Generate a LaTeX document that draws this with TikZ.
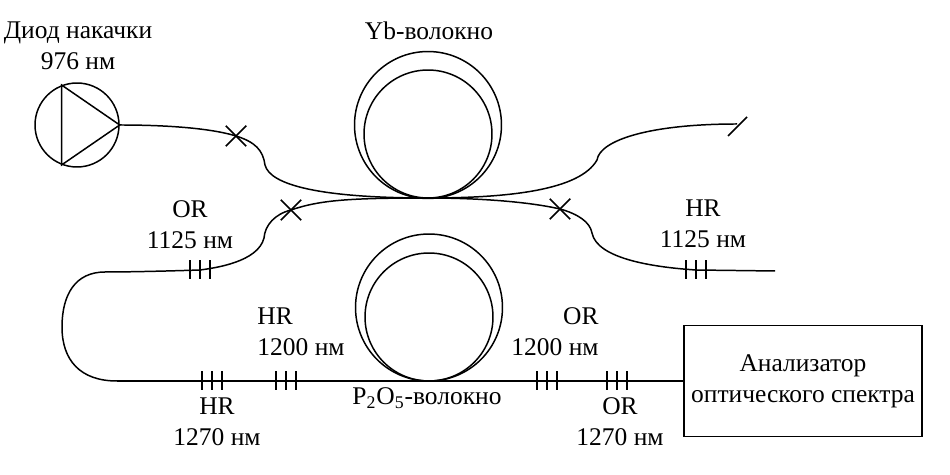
\documentclass[tikz,border=0pt]{standalone}
\usepackage{fontspec}
\setmainfont{Liberation Serif}
\usetikzlibrary{shapes.misc}
\tikzset{
    fiber/.style={line width=0.85pt},
    loopfiber/.style={circle,draw,line width=0.85pt,inner sep=0pt},
    splice/.style={cross out,draw,line width=0.85pt,inner sep=0pt,minimum size=0.38cm},
    caption/.style={align=center,inner sep=0pt,font=\fontsize{14.5}{17.6}\selectfont}
}
\begin{document}
\begin{tikzpicture}[x=0.02cm,y=-0.02cm]
    \useasboundingbox (0,0) rectangle (950,475);
    % pump
    \node[loopfiber,minimum size=1.68cm] (pump) at (77,125) {};
    \draw[fiber] (pump.111) -- (pump.249) -- (pump.east) -- cycle;
    \node[caption] (pumplabel) at (78,45.5) {Диод накачки\\976 нм};
    % coils
    \node[loopfiber,minimum size=2.94cm] (ybouter) at (428,125) {};
    \node[loopfiber,minimum size=2.56cm] (ybinner) at (428,134) {};
    \node[loopfiber,minimum size=2.94cm] (pouter) at (429,307.5) {};
    \node[loopfiber,minimum size=2.56cm] (pinner) at (429,317) {};
    \node[caption] (yblabel) at (429,31) {Yb-волокно};
    \node[caption] (plabel) at (427,398) {P\textsubscript{2}O\textsubscript{5}-волокно};
    % splices
    \node[splice] (spliceA) at (236,136) {};
    \node[splice] (spliceB) at (291,210) {};
    \node[splice] (spliceC) at (560,209) {};
    \coordinate (top) at (428,198);
    \coordinate (cutA) at (728,136);
    \coordinate (cutB) at (747,117);
    \coordinate (cut) at (737,124);
    \coordinate (open) at (775,271);
    \coordinate (turn) at (117,381);
    % gratings
    \coordinate (orA) at (200,270);
    \coordinate (hrA) at (696,270);
    \coordinate (hrB) at (212,381);
    \coordinate (hrC) at (286,381);
    \coordinate (orB) at (547,381);
    \coordinate (orC) at (617,381);
    % analyzer
    \node[draw,line width=0.85pt,caption,minimum width=4.76cm,minimum height=2.22cm] (osa) at (803,381) {Анализатор\\оптического спектра};
    % fibers
    \draw[fiber] (pump.east) .. controls (165,125) and (210,128) .. (spliceA.center)
        .. controls (255,142) and (263,150) .. (265,165)
        .. controls (270,185) and (320,198) .. (top)
        .. controls (510,198) and (580,190) .. (597,160)
        .. controls (600,140) and (650,124) .. (cut);
    \draw[fiber] (cutA) -- (cutB);
    \draw[fiber] (spliceB.center) .. controls (320,200) and (350,198) .. (top)
        .. controls (480,198) and (530,202) .. (spliceC.center)
        .. controls (578,214) and (590,222) .. (592,233)
        .. controls (597,258) and (650,267) .. (hrA) -- (open);
    \draw[fiber] (spliceB.center) .. controls (275,214) and (265,225) .. (264,238)
        .. controls (258,262) and (215,268) .. (orA)
        .. controls (170,271) and (130,272) .. (105,272)
        .. controls (75,272) and (62,295) .. (62,327)
        .. controls (62,360) and (80,381) .. (turn);
    \draw[fiber] (turn) -- (osa.west);
    \foreach \p in {orA,hrA,hrB,hrC,orB,orC} {
        \foreach \d in {-10,0,10} {
            \draw[fiber] ([shift={(\d,-9.5)}]\p) -- ([shift={(\d,9.5)}]\p);
        }
    }
    % labels
    \node[caption] (orAlabel) at (190,225) {OR\\1125 нм};
    \node[caption] (hrAlabel) at (703,224) {HR\\1125 нм};
    \node[caption,align=left] (hrClabel) at (301,332) {HR\\1200 нм};
    \node[caption,align=right] (orBlabel) at (555,332) {OR\\1200 нм};
    \node[caption] (hrBlabel) at (217,422) {HR\\1270 нм};
    \node[caption] (orClabel) at (620,422) {OR\\1270 нм};
\end{tikzpicture}
\end{document}
